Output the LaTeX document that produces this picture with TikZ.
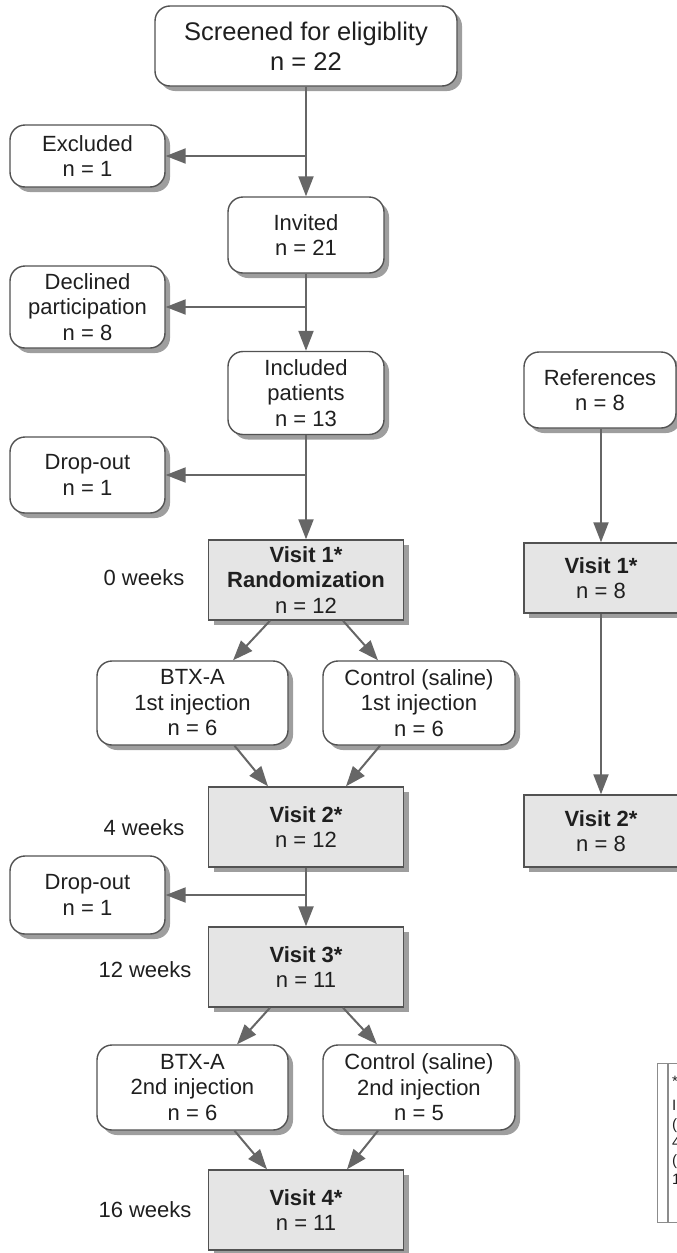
\documentclass[tikz,border=0pt]{standalone}
\usepackage{fontspec}
\setmainfont{Liberation Sans}
\usetikzlibrary{arrows.meta,shadows,calc}
\begin{document}
\begin{tikzpicture}[x=1pt,y=-1pt,
  base/.style={draw=black!68, line width=1.4pt, fill=white, align=center, inner sep=0pt,
    text=black!88, font=\fontsize{22}{25.5}\selectfont,
    general shadow={fill=black!38, shadow xshift=5pt, shadow yshift=-5pt}},
  rbox/.style={base, rounded corners=15pt},
  vbox/.style={base, fill=black!10},
  lbl/.style={inner sep=0pt, text=black!88, font=\fontsize{22}{25.5}\selectfont},
  arr/.style={draw=black!60, line width=2pt, -{Triangle[length=20pt,width=15pt]}},
  ln/.style={draw=black!60, line width=2pt}
]
\useasboundingbox (0,0) rectangle (677,1253);

% main column
\node[rbox, minimum width=302pt, minimum height=80pt, font=\fontsize{25.5}{30}\selectfont] (scr) at (306,46) {Screened for eligiblity\\n = 22};
\node[rbox, minimum width=155pt, minimum height=62pt] (excl) at (87.5,156) {Excluded\\n = 1};
\node[rbox, minimum width=156pt, minimum height=76pt] (inv) at (306,235) {Invited\\n = 21};
\node[rbox, minimum width=155pt, minimum height=82pt] (decl) at (87.5,307) {Declined\\participation\\n = 8};
\node[rbox, minimum width=156pt, minimum height=83pt] (incl) at (306,393) {Included\\patients\\n = 13};
\node[rbox, minimum width=155pt, minimum height=76pt] (drop1) at (87.5,475) {Drop-out\\n = 1};

\node[vbox, minimum width=195pt, minimum height=80pt] (v1) at (306,580) {\textbf{Visit 1*}\\\textbf{Randomization}\\n = 12};
\node[lbl] (w0) at (144,578) {0 weeks};

\node[rbox, minimum width=191pt, minimum height=84pt] (btx1) at (192.5,703) {BTX-A\\1st injection\\n = 6};
\node[rbox, minimum width=192pt, minimum height=84pt] (ctl1) at (419,703) {Control (saline)\\1st injection\\n = 6};

\node[vbox, minimum width=195pt, minimum height=80pt] (v2) at (306,827) {\textbf{Visit 2*}\\n = 12};
\node[lbl] (w4) at (144,828) {4 weeks};
\node[rbox, minimum width=155pt, minimum height=78pt] (drop2) at (87.5,895) {Drop-out\\n = 1};

\node[vbox, minimum width=195pt, minimum height=80pt] (v3) at (306,967) {\textbf{Visit 3*}\\n = 11};
\node[lbl] (w12) at (145,970) {12 weeks};

\node[rbox, minimum width=191pt, minimum height=85pt] (btx2) at (192.5,1087.5) {BTX-A\\2nd injection\\n = 6};
\node[rbox, minimum width=192pt, minimum height=85pt] (ctl2) at (419,1087.5) {Control (saline)\\2nd injection\\n = 5};

\node[vbox, minimum width=195pt, minimum height=80pt] (v4) at (306,1210) {\textbf{Visit 4*}\\n = 11};
\node[lbl] (w16) at (145,1210) {16 weeks};

% right column
\node[rbox, minimum width=152pt, minimum height=76pt] (ref) at (600,390) {References\\n = 8};
\node[vbox, minimum width=154pt, minimum height=70pt] (rv1) at (601,578) {\textbf{Visit 1*}\\n = 8};
\node[vbox, minimum width=154pt, minimum height=72pt] (rv2) at (601,831) {\textbf{Visit 2*}\\n = 8};

% note box (cut at the edge)
\node[draw=black!45, line width=1.2pt, anchor=north west, minimum width=60pt, minimum height=159pt, inner sep=0pt] (note) at (657,1063) {};
\coordinate (notein) at ($(note.north west)+(11,0)$);
\draw[draw=black!45, line width=1.2pt] (notein) -- (notein |- note.south);
\node[anchor=north west, inner sep=0pt, align=left, text=black!88, font=\fontsize{15}{18.3}\selectfont] (notetxt) at (672,1076) {*\\[6pt]I\\(\\4\\(\\1};

% connectors main column
\draw[arr] (scr.south) -- (inv.north);
\coordinate (b1) at (scr.south |- excl.east);
\draw[arr] (b1) -- (excl.east);
\draw[arr] (inv.south) -- (incl.north);
\coordinate (b2) at (inv.south |- decl.east);
\draw[arr] (b2) -- (decl.east);
\draw[arr] (incl.south) -- (v1.north);
\coordinate (b3) at (incl.south |- drop1.east);
\draw[arr] (b3) -- (drop1.east);

\draw[arr] ([xshift=-36pt]v1.south) -- ([xshift=40.5pt]btx1.north);
\draw[arr] ([xshift=37pt]v1.south) -- ([xshift=-41pt]ctl1.north);
\draw[arr] ([xshift=42pt]btx1.south) -- ([xshift=-38pt]v2.north);
\draw[arr] ([xshift=-39pt]ctl1.south) -- ([xshift=40pt]v2.north);

\draw[arr, line width=2.4pt] (v2.south) -- (v3.north);
\coordinate (b4) at (v2.south |- drop2.east);
\draw[arr] (b4) -- (drop2.east);

\draw[arr] ([xshift=-36pt]v3.south) -- ([xshift=44.5pt]btx2.north);
\draw[arr] ([xshift=37pt]v3.south) -- ([xshift=-42pt]ctl2.north);
\draw[arr] ([xshift=42pt]btx2.south) -- ([xshift=-39pt]v4.north);
\draw[arr] ([xshift=-41pt]ctl2.south) -- ([xshift=41pt]v4.north);

% right column connectors
\draw[arr] (ref.south -| rv1.north) -- (rv1.north);
\draw[arr] (rv1.south) -- (rv2.north);
\end{tikzpicture}
\end{document}
